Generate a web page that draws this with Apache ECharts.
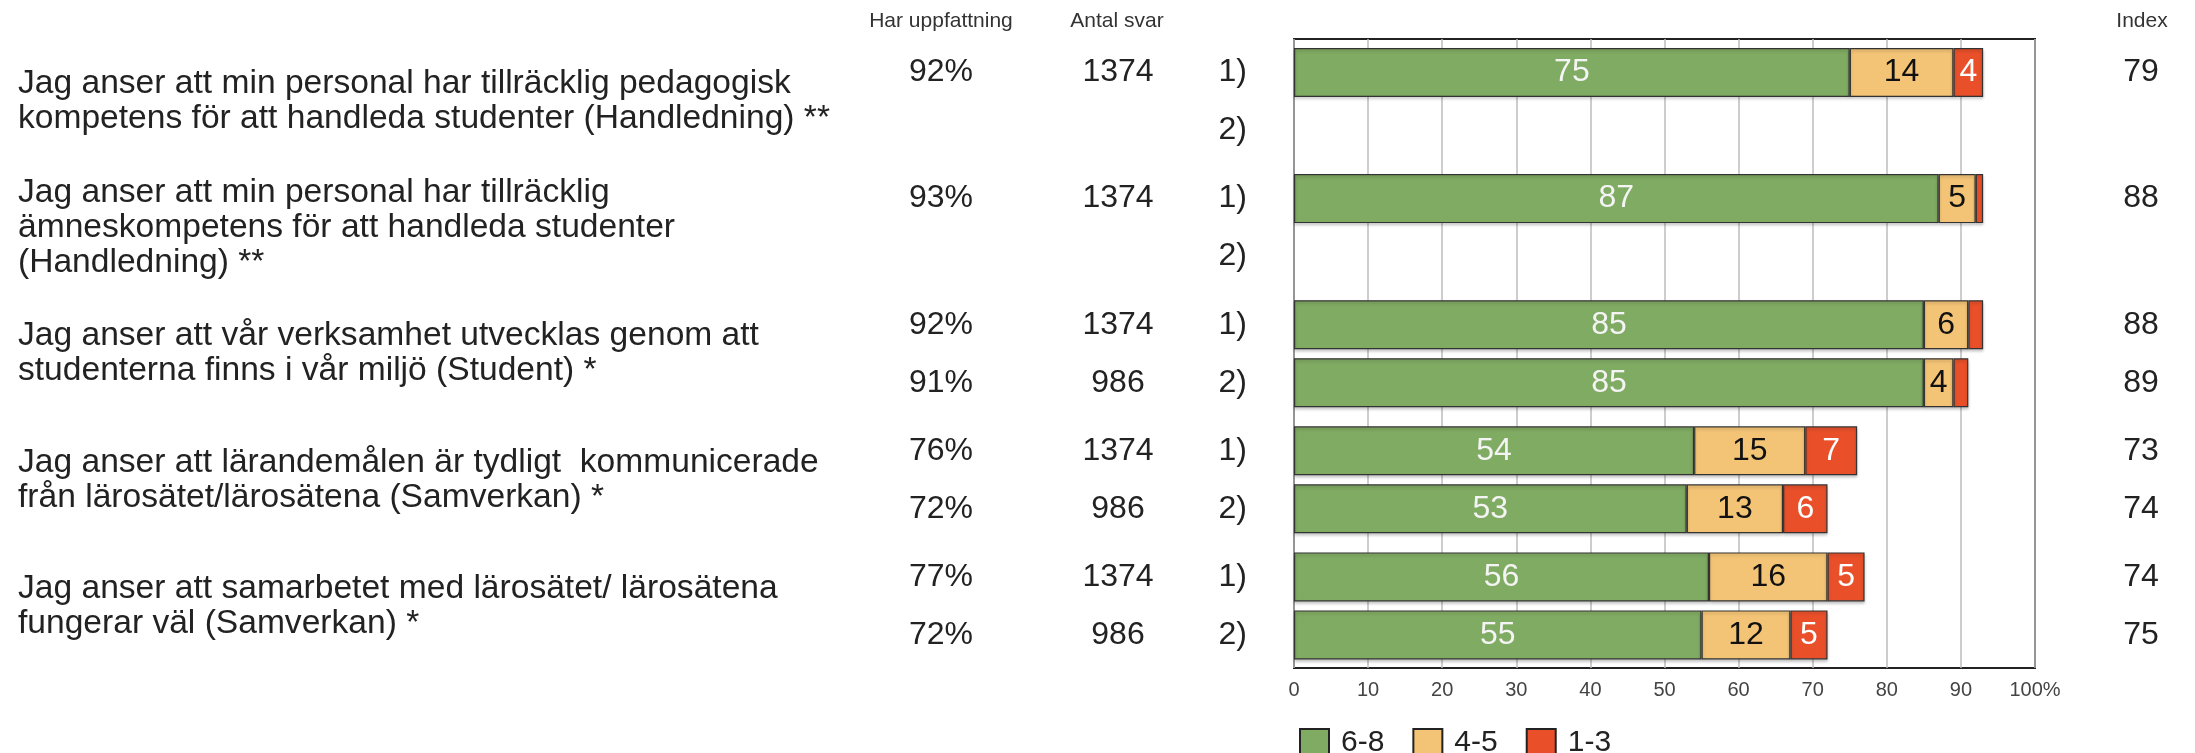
<!DOCTYPE html>
<html><head><meta charset="utf-8">
<script src="https://cdn.jsdelivr.net/npm/echarts@6/dist/echarts.min.js"></script>
<style>html,body{margin:0;padding:0;background:#fff}#c{width:2195px;height:753px}</style>
</head><body><div id="c"></div>
<script>
// ---------- data ----------
const questions = [
  'Jag anser att min personal har tillräcklig pedagogisk\nkompetens för att handleda studenter (Handledning) **',
  'Jag anser att min personal har tillräcklig\nämneskompetens för att handleda studenter\n(Handledning) **',
  'Jag anser att vår verksamhet utvecklas genom att\nstudenterna finns i vår miljö (Student) *',
  'Jag anser att lärandemålen är tydligt  kommunicerade\nfrån lärosätet/lärosätena (Samverkan) *',
  'Jag anser att samarbetet med lärosätet/ lärosätena\nfungerar väl (Samverkan) *'
];
const rowLabels = ['1)', '2)'];
const harUppfattning = [[92, null], [93, null], [92, 91], [76, 72], [77, 72]];
const antalSvar = [[1374, null], [1374, null], [1374, 986], [1374, 986], [1374, 986]];
const s68 = [[75, null], [87, null], [85, 85], [54, 53], [56, 55]];
const s45 = [[14, null], [5, null], [6, 4], [15, 13], [16, 12]];
const s13 = [[4, null], [1, null], [2, 2], [7, 6], [5, 5]];
const indexVals = [[79, null], [88, null], [88, 89], [73, 74], [74, 75]];
const seriesNames = ['6-8', '4-5', '1-3'];
const headers = ['Har uppfattning', 'Antal svar', 'Index'];
const xTickStep = 10;

// ---------- layout / style ----------
const FONT = '"Liberation Sans", Arial, Helvetica, sans-serif';
const PLOT_LEFT = 1294, PLOT_W = 741, PLOT_TOP = 39, PLOT_H = 629;
const G_TOP0 = 43.5, G_PITCH = 126.1, G_H = 116;
const colors = ['#80ab63', '#f4c476', '#e9502a'];
const labelColors = ['#f4f4f4', '#111111', '#ffffff'];
const seriesData = [s68, s45, s13];

const grids = [{
  left: PLOT_LEFT, top: PLOT_TOP, width: PLOT_W, height: PLOT_H,
  show: true, borderColor: '#222', borderWidth: 2, backgroundColor: '#fff',
  containLabel: false, outerBoundsMode: 'none'
}];
const xAxes = [{
  gridIndex: 0, type: 'value', min: 0, max: 100, interval: xTickStep,
  axisLine: {show: false}, axisTick: {show: false},
  splitLine: {show: true, lineStyle: {color: '#bdbdbd', width: 1.5}},
  axisLabel: {fontSize: 20, color: '#444', margin: 12, fontFamily: FONT,
    formatter: v => v === 100 ? '100%' : String(v)}
}];
const yAxes = [{gridIndex: 0, type: 'value', show: false, min: 0, max: 1}];
const series = [];

const fmt = (arr, f) => arr.map(v => v == null ? '' : f(v));
const catAxis = (g, data, position, margin, extra) => Object.assign({
  gridIndex: g, type: 'category', data: data, inverse: true, position: position,
  axisLine: {show: false}, axisTick: {show: false}, splitLine: {show: false},
  axisLabel: {margin: margin, fontSize: 32, color: '#222', align: 'center', fontFamily: FONT}
}, extra || {});

questions.forEach((q, i) => {
  const g = i + 1;
  grids.push({left: PLOT_LEFT, width: PLOT_W, top: G_TOP0 + G_PITCH * i, height: G_H,
    containLabel: false, outerBoundsMode: 'none'});
  xAxes.push({gridIndex: g, type: 'value', min: 0, max: 100, show: false});
  const yBase = yAxes.length;
  yAxes.push(catAxis(g, rowLabels, 'left', 47, {
    axisLabel: {margin: 47, fontSize: 32, color: '#222', align: 'right', fontFamily: FONT},
    name: q, nameLocation: 'middle', nameRotate: 0, nameGap: PLOT_LEFT - 18,
    nameTextStyle: {align: 'left', verticalAlign: 'middle', fontSize: 33.6, lineHeight: 35,
      color: '#222', fontFamily: FONT, padding: [4, 0, 0, 0]}
  }));
  yAxes.push(catAxis(g, fmt(harUppfattning[i], v => v + '%'), 'left', PLOT_LEFT - 941));
  yAxes.push(catAxis(g, fmt(antalSvar[i], v => String(v)), 'left', PLOT_LEFT - 1118));
  yAxes.push(catAxis(g, fmt(indexVals[i], v => String(v)), 'right', 2141 - (PLOT_LEFT + PLOT_W)));
  seriesData.forEach((arr, k) => {
    series.push({
      type: 'bar', name: seriesNames[k], xAxisIndex: g, yAxisIndex: yBase,
      stack: 'q' + i, barWidth: 49,
      data: arr[i].map(v => v == null ? '-' : v),
      itemStyle: {color: colors[k], borderColor: '#333', borderWidth: 1.2,
        shadowColor: 'rgba(0,0,0,0.22)', shadowBlur: 3, shadowOffsetY: 2},
      label: {show: true, position: 'inside', fontSize: 32, color: labelColors[k],
        fontFamily: FONT, formatter: p => (typeof p.value === 'number' && p.value >= 3) ? p.value : ''},
      emphasis: {disabled: true}
    });
  });
});

const headerX = [941, 1117, 2142];
const graphic = headers.map((h, i) => ({
  type: 'text', x: headerX[i], y: 21,
  style: {text: h, fontSize: 21, fontFamily: FONT, fill: '#333', align: 'center', verticalAlign: 'middle'}
}));

const chart = echarts.init(document.getElementById('c'), null, {renderer: 'canvas'});
chart.setOption({
  animation: false,
  textStyle: {fontFamily: FONT},
  grid: grids, xAxis: xAxes, yAxis: yAxes, series: series, graphic: graphic,
  legend: {
    data: seriesNames, left: PLOT_LEFT, top: 723, orient: 'horizontal',
    itemWidth: 29, itemHeight: 28, itemGap: 28, icon: 'rect',
    itemStyle: {borderColor: '#222', borderWidth: 2, shadowBlur: 0, shadowOffsetY: 0, shadowColor: 'transparent'},
    textStyle: {fontSize: 30, color: '#222', padding: [0, 0, 0, 7], fontFamily: FONT},
    selectedMode: false
  }
});
</script>
</body></html>
